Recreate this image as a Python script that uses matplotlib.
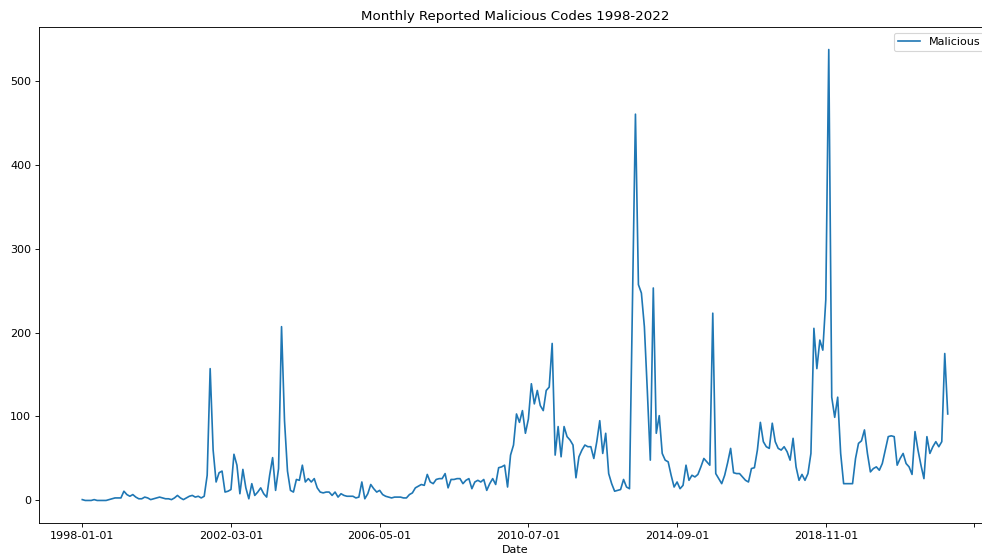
import numpy as np
import pandas as pd
import matplotlib
matplotlib.use('Agg')
import matplotlib.pyplot as plt

# monthly counts of reported malicious code, Jan 1998 onwards
malicious = [
    1, 0, 0, 0, 1, 0, 0, 0, 0, 1,
    2, 3, 3, 3, 11, 7, 5, 7, 4, 2,
    2, 4, 3, 1, 2, 3, 4, 3, 2, 2,
    1, 3, 6, 3, 1, 3, 5, 6, 4, 5,
    3, 5, 30, 157, 60, 22, 33, 35, 10, 11,
    13, 55, 42, 8, 37, 15, 2, 20, 6, 10,
    15, 8, 4, 30, 51, 12, 38, 207, 95, 35,
    12, 10, 25, 24, 42, 22, 26, 22, 26, 15,
    10, 9, 10, 10, 6, 10, 4, 8, 6, 5,
    5, 5, 3, 4, 22, 2, 8, 19, 14, 10,
    12, 7, 5, 4, 3, 4, 4, 4, 3, 3,
    7, 9, 15, 17, 19, 18, 31, 22, 20, 25,
    26, 26, 32, 15, 25, 25, 26, 26, 20, 24,
    26, 14, 22, 24, 22, 25, 12, 20, 26, 19,
    39, 40, 42, 16, 54, 66, 103, 93, 107, 80,
    97, 139, 115, 131, 113, 107, 131, 135, 187, 54,
    88, 52, 88, 76, 72, 66, 27, 52, 60, 66,
    64, 64, 50, 70, 95, 56, 80, 32, 20, 11,
    12, 13, 25, 16, 14, 240, 460, 257, 247, 207,
    130, 48, 253, 80, 101, 56, 48, 46, 30, 16,
    22, 14, 18, 42, 24, 30, 28, 31, 40, 50,
    46, 42, 223, 32, 26, 20, 30, 45, 62, 33,
    32, 32, 28, 24, 22, 38, 39, 60, 93, 70,
    64, 62, 92, 70, 62, 60, 64, 58, 48, 74,
    40, 24, 31, 24, 32, 56, 205, 157, 191, 179,
    239, 537, 123, 99, 123, 56, 20, 20, 20, 20,
    50, 68, 71, 84, 56, 34, 38, 40, 36, 44,
    60, 76, 77, 76, 42, 50, 56, 44, 40, 31,
    82, 60, 42, 26, 76, 56, 64, 70, 64, 70,
    175, 103,
]
dates = pd.date_range('1998-01-01', periods=len(malicious), freq='MS').strftime('%Y-%m-%d')

W, H, DPI = 982, 557, 80
fig = plt.figure(figsize=(W / DPI, H / DPI), dpi=DPI)
# axes runs slightly past the right edge of the canvas
ax = fig.add_axes([39 / W, 34 / H, 952 / W, 496 / H])

x = np.arange(len(malicious))
ax.plot(x, malicious, label='Malicious')

# label every 50th month like a pandas string index does
ticks = np.arange(0, 301, 50)
ax.set_xticks(ticks)
ax.set_xticklabels([dates[t] if t < len(dates) else '' for t in ticks])

ax.set_title('Monthly Reported Malicious Codes 1998-2022')
ax.set_xlabel('Date')
ax.legend(loc='upper right', fontsize=10)

fig.savefig('out.png', dpi=DPI)
